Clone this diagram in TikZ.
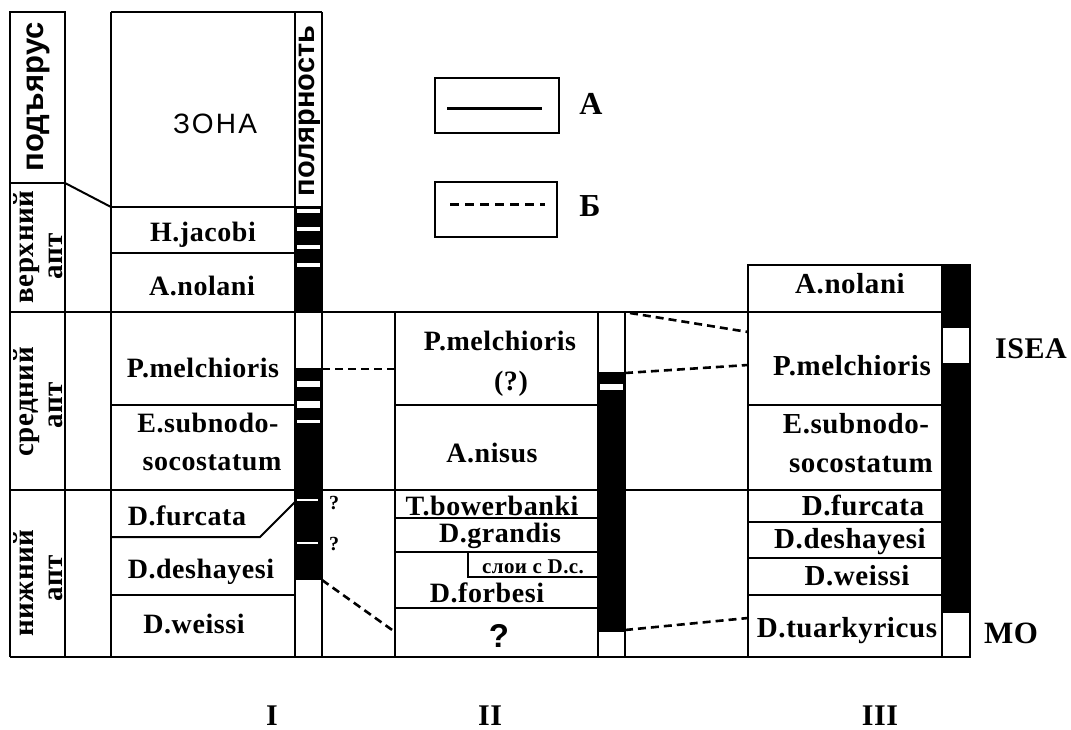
\documentclass[tikz,border=0pt]{standalone}
\usepackage{fontspec}
\setmainfont[LetterSpace=2]{Liberation Serif}
\newfontfamily\sansb{Liberation Sans}
\newfontfamily\sanszona[LetterSpace=8]{Liberation Sans}
\newcommand\myfs[1]{\fontsize{#1}{#1}\selectfont}
\begin{document}
\begin{tikzpicture}[x=1pt,y=-1pt,
  grid/.style={line width=2pt},
  thickgrid/.style={line width=2.8pt},
  corr/.style={line width=2.6pt,dash pattern=on 8pt off 5pt},
  lb/.style={font=\myfs{28}\bfseries,inner sep=0pt,anchor=base},
  lbs/.style={font=\myfs{29}\bfseries,inner sep=0pt,anchor=base},
  rot/.style={font=\myfs{29}\bfseries,inner sep=0pt,anchor=base,rotate=90},
  blk/.style={fill=black},
  wht/.style={fill=white}]
\useasboundingbox (0,0) rectangle (1071,730);

% ---- polarity fills ----
\fill[blk] (295,207) rectangle (322,312);
\foreach \a/\b in {209/213,227/231,245/249,263/267}
  \fill[wht] (296.5,\a) rectangle (319.5,\b);
\fill[blk] (295,368) rectangle (322,580);
\foreach \a/\b in {381/387,401/408,420/423}
  \fill[wht] (296.5,\a) rectangle (319.5,\b);
\foreach \a in {500,543}
  \fill[wht] (296.5,\a-1) rectangle (318,\a+1);
\fill[blk] (598,372) rectangle (625,632);
\fill[wht] (599.5,384) rectangle (623,390);
\fill[blk] (942,265) rectangle (970,328);
\fill[blk] (942,363) rectangle (970,613);

% ---- grid column I ----
\draw[grid] (10,12) rectangle (65,183);
\draw[grid] (10,183) -- (10,657);
\draw[grid] (65,183) -- (65,657);
\draw[grid] (111,12) -- (111,657);
\draw[grid] (295,12) -- (295,657);
\draw[grid] (322,12) -- (322,657);
\draw[grid] (111,12) -- (322,12);
\draw[grid] (111,207) -- (322,207);
\draw[grid] (65,183) -- (111,207);
\draw[grid] (111,253) -- (295,253);
\draw[thickgrid] (10,312) -- (942,312);
\draw[grid] (111,405) -- (295,405);
\draw[thickgrid] (10,490) -- (942,490);
\draw[grid] (111,537) -- (260,537) -- (295,502);
\draw[grid] (111,595) -- (295,595);
\draw[thickgrid] (10,657) -- (942,657);
% ---- column II ----
\draw[grid] (395,312) -- (395,657);
\draw[grid] (598,312) -- (598,657);
\draw[grid] (625,312) -- (625,657);
\draw[grid] (395,405) -- (598,405);
\draw[grid] (395,518) -- (598,518);
\draw[grid] (395,552) -- (598,552);
\draw[grid] (468,552) -- (468,577) -- (598,577);
\draw[grid] (395,608) -- (598,608);
% ---- column III ----
\draw[grid] (748,265) rectangle (970,657);
\draw[grid] (942,265) -- (942,657);
\draw[grid] (748,405) -- (942,405);
\draw[grid] (748,522) -- (942,522);
\draw[grid] (748,558) -- (942,558);
\draw[grid] (748,595) -- (942,595);

% ---- correlation lines ----
\coordinate (pI1) at (322,369);  \coordinate (cII1) at (395,369);
\coordinate (pI2) at (322,580);  \coordinate (cII2) at (395,632);
\coordinate (pII1) at (630,313); \coordinate (cIII1) at (748,332);
\coordinate (pII2) at (625,373); \coordinate (cIII2) at (748,365);
\coordinate (pII3) at (625,630); \coordinate (cIII3) at (748,618);
\draw[corr] (pI1) -- (cII1);
\draw[corr] (pI2) -- (cII2);
\draw[corr] (pII1) -- (cIII1);
\draw[corr] (pII2) -- (cIII2);
\draw[corr] (pII3) -- (cIII3);

% ---- headers ----
\node[font=\sansb\myfs{31}\bfseries,inner sep=0pt,anchor=base,rotate=90] (hsub) at (43,97) {подъярус};
\node[font=\sansb\myfs{29}\bfseries,inner sep=0pt,anchor=base,rotate=90] (hpol) at (314,111) {полярность};
\node[font=\sanszona\myfs{28},inner sep=0pt,anchor=base] (hzona) at (215,134) {ЗОНА};

% ---- stage labels ----
\node[rot] (s1a) at (33,247) {верхний};
\node[rot] (s1b) at (62,256) {апт};
\node[rot] (s2a) at (33,402) {средний};
\node[rot] (s2b) at (62,405) {апт};
\node[rot] (s3a) at (33,583) {нижний};
\node[rot] (s3b) at (62,578) {апт};

% ---- column I zones ----
\node[lb] (z1) at (203,241) {H.jacobi};
\node[lb] (z2) at (202,295) {A.nolani};
\node[lb] (z3) at (203,377) {P.melchioris};
\node[lb] (z4) at (208,432) {E.subnodo-};
\node[lb] (z4b) at (212,470) {socostatum};
\node[lb] (z5) at (187,525) {D.furcata};
\node[lb] (z6) at (201,578) {D.deshayesi};
\node[lb] (z7) at (194,633) {D.weissi};
\node[font=\myfs{20}\bfseries,inner sep=0pt,anchor=base] (q1) at (334,509) {?};
\node[font=\myfs{20}\bfseries,inner sep=0pt,anchor=base] (q2) at (334,550) {?};

% ---- column II zones ----
\node[lb] (y1) at (500,350) {P.melchioris};
\node[lb] (y1b) at (511,390) {(?)};
\node[lb] (y2) at (492,462) {A.nisus};
\node[lb] (y3) at (492,515) {T.bowerbanki};
\node[lb] (y4) at (500,542) {D.grandis};
\node[font=\myfs{21}\bfseries,inner sep=0pt,anchor=base] (y5) at (533,573) {слои с D.c.};
\node[lb] (y6) at (487,602) {D.forbesi};
\node[font=\sansb\myfs{33}\bfseries,inner sep=0pt,anchor=base] (y7) at (499,647) {?};

% ---- column III zones ----
\node[lbs] (x1) at (850,293) {A.nolani};
\node[lbs] (x2) at (852,375) {P.melchioris};
\node[lbs] (x3) at (856,433) {E.subnodo-};
\node[lbs] (x3b) at (861,472) {socostatum};
\node[lbs] (x4) at (863,515) {D.furcata};
\node[lbs] (x5) at (850,548) {D.deshayesi};
\node[lbs] (x6) at (857,585) {D.weissi};
\node[lbs] (x7) at (847,637) {D.tuarkyricus};
\node[font=\myfs{30}\bfseries,inner sep=0pt,anchor=base] (isea) at (1031,358) {ISEA};
\node[font=\myfs{31}\bfseries,inner sep=0pt,anchor=base] (mo) at (1011,643) {MO};

% ---- legend ----
\draw[grid] (435,78) rectangle (559,133);
\coordinate (la1) at (447,109); \coordinate (la2) at (542,109);
\draw[line width=3pt] (la1) -- (la2);
\node[font=\myfs{32}\bfseries,inner sep=0pt,anchor=base] (legA) at (591,115) {А};
\draw[grid] (435,182) rectangle (557,237);
\coordinate (lb1) at (450,205); \coordinate (lb2) at (545,205);
\draw[line width=3pt,dash pattern=on 9pt off 6pt] (lb1) -- (lb2);
\node[font=\myfs{32}\bfseries,inner sep=0pt,anchor=base] (legB) at (590,217) {Б};

% ---- column numerals ----
\node[font=\myfs{30}\bfseries,inner sep=0pt,anchor=base] (nI) at (272,725) {I};
\node[font=\myfs{30}\bfseries,inner sep=0pt,anchor=base] (nII) at (490,725) {II};
\node[font=\myfs{30}\bfseries,inner sep=0pt,anchor=base] (nIII) at (880,725) {III};
\end{tikzpicture}
\end{document}
